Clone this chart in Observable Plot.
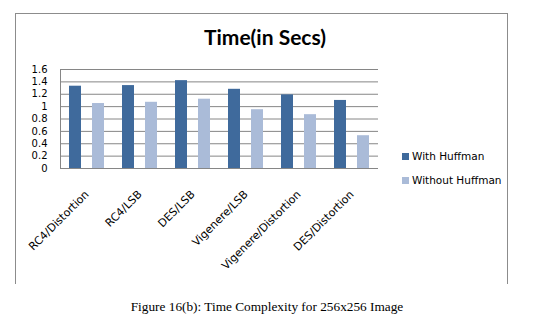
<!DOCTYPE html>
<html>
<head>
<meta charset="utf-8">
<script src="https://cdn.jsdelivr.net/npm/d3@7"></script>
<script src="https://cdn.jsdelivr.net/npm/@observablehq/plot@0.6"></script>
<style>
  html, body { margin: 0; padding: 0; background: #fff; }
  #wrap { position: relative; width: 537px; height: 328px; overflow: hidden; }
  #border { position: absolute; left: 15px; top: 13px; width: 491px; height: 270px;
            border: 1px solid #8c8c8c; border-bottom: none; }
  #title { position: absolute; left: 0; width: 530px; top: 24px; text-align: center;
           font-family: Lato, sans-serif; font-weight: 700; font-size: 21px; color: #000; }
  #chart { position: absolute; left: 0; top: 0; }
  .leg { position: absolute; left: 402px; font-family: "DejaVu Sans", sans-serif; font-size: 10.5px; color: #000; white-space: nowrap; }
  .leg span { display: inline-block; width: 7px; height: 7px; margin-right: 3px; vertical-align: 0px; }
  #caption { position: absolute; left: 0; width: 534px; top: 299px; text-align: center;
             font-family: "Liberation Serif", serif; font-size: 13.3px; color: #000; }
</style>
</head>
<body>
<div id="wrap">
  <div id="border"></div>
  <div id="chart"></div>
  <div id="title">Time(in Secs)</div>
  <div id="legend"></div>
  <div id="caption">Figure 16(b): Time Complexity for 256x256 Image</div>
</div>
<script>
const categories = ["RC4/Distortion", "RC4/LSB", "DES/LSB", "Vigenere/LSB", "Vigenere/Distortion", "DES/Distortion"];
const seriesNames = ["With Huffman", "Without Huffman"];
const withHuffman = [1.33, 1.34, 1.42, 1.28, 1.19, 1.10];
const withoutHuffman = [1.05, 1.07, 1.12, 0.95, 0.87, 0.53];
const yTicks = [0, 0.2, 0.4, 0.6, 0.8, 1, 1.2, 1.4, 1.6];
const colors = ["#3f6a9c", "#aabbd8"];

const data = [];
categories.forEach((c, i) => {
  data.push({cat: c, series: seriesNames[0], value: withHuffman[i]});
  data.push({cat: c, series: seriesNames[1], value: withoutHuffman[i]});
});

const chart = Plot.plot({
  width: 537,
  height: 290,
  marginLeft: 58,
  marginRight: 157,
  marginTop: 69,
  marginBottom: 122,
  style: {fontFamily: "DejaVu Sans, sans-serif", background: "transparent", color: "#000"},
  fx: {domain: categories, padding: 0, label: null},
  x: {domain: seriesNames, paddingInner: 0.5, paddingOuter: 0.37, axis: null},
  y: {domain: [0, 1.6], label: null},
  color: {domain: seriesNames, range: colors},
  marks: [
    Plot.gridY(yTicks, {stroke: "#868686", strokeOpacity: 1}),
    Plot.frame({anchor: "left", stroke: "#868686", facetAnchor: "left"}),
    Plot.barY(data, {fx: "cat", x: "series", y: "value", fill: "series"}),
    Plot.axisY({ticks: yTicks, tickSize: 0, tickPadding: 13, fontSize: 10,
                tickFormat: d => String(+d.toFixed(1)), label: null}),
    Plot.axisFx({anchor: "bottom", tickRotate: -45, tickSize: 0, tickPadding: 24, dx: 0, fontSize: 11, label: null})
  ]
});
document.getElementById("chart").appendChild(chart);

const legend = document.getElementById("legend");
seriesNames.forEach((s, i) => {
  const d = document.createElement("div");
  d.className = "leg";
  d.style.top = (150 + i * 24) + "px";
  d.innerHTML = `<span style="background:${colors[i]}"></span>${s}`;
  legend.appendChild(d);
});
</script>
</body>
</html>
